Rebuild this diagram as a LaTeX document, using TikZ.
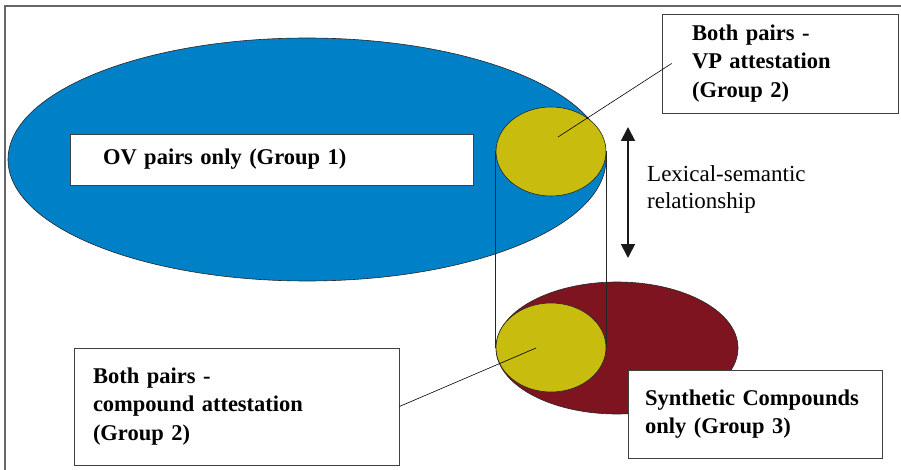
\documentclass[tikz,border=0pt]{standalone}
\usepackage{fontspec}
\setmainfont{Liberation Serif}
\usetikzlibrary{shapes.geometric, arrows.meta}
\definecolor{ovblue}{RGB}{0,129,199}
\definecolor{scred}{RGB}{126,20,32}
\definecolor{bothyellow}{RGB}{200,188,14}

\begin{document}
\begin{tikzpicture}[x=1pt, y=-1pt,
	main/.style = {draw=black!75, fill=white, line width=0.8pt, align=left, inner ysep=0pt, font=\bfseries\fontsize{22.5}{28.5}\selectfont},
	blob/.style = {ellipse, draw=black!85, line width=0.6pt, inner sep=0pt},
	tip/.style = {{Triangle[length=14pt,width=14pt]}-{Triangle[length=14pt,width=14pt]}, line width=1.8pt, black!90}]
	%% Frame
	\useasboundingbox (0,0) rectangle (901,470);
	\draw[black!60, line width=1.2pt] (5,470) -- (5,6) -- (901,6);

	%% Nodes
	\node[blob, fill=ovblue, minimum width=598pt, minimum height=243pt] (1) at (307,159.5) {};
	\node[main, inner xsep=33pt, text width=337pt, minimum height=51pt] (2) at (271.5,159.5) {OV pairs only (Group 1)};

	\node[blob, fill=scred, minimum width=242pt, minimum height=132pt] (5) at (617,348) {};

	\node[blob, fill=bothyellow, minimum width=110pt, minimum height=89pt] (3) at (551,151.5) {};
	\node[blob, fill=bothyellow, minimum width=110pt, minimum height=89pt] (6) at (551,347.5) {};

	\node[main, inner xsep=30pt, text width=176pt, minimum height=99pt] (4) at (780,63.5) {Both pairs -\\VP attestation\\(Group 2)};
	\node[main, inner xsep=19pt, text width=287pt, minimum height=117pt] (7) at (236.5,406.5) {Both pairs -\\compound attestation\\(Group 2)};
	\node[main, inner xsep=17pt, text width=220pt, minimum height=88pt] (8) at (755,414) {Synthetic Compounds\\only (Group 3)};

	\node[align=left, anchor=west, inner sep=0pt, font=\fontsize{23}{27}\selectfont] (9) at (647,189) {Lexical-semantic\\relationship};

	\coordinate (up) at (628,127);
	\coordinate (down) at (628,258);
	\coordinate (vpend) at (558,137);
	\coordinate (cpend) at (536,348);

	%% Edges
	\draw[black!85, line width=0.8pt] (3.west) -- (6.west);
	\draw[black!85, line width=0.8pt] (3.east) -- (6.east);
	\draw[line width=0.6pt] ([xshift=10pt]4.west) -- (vpend);
	\draw[line width=0.6pt] (7.east) -- (cpend);
	\draw[tip] (up) -- (down);

\end{tikzpicture}
\end{document}
